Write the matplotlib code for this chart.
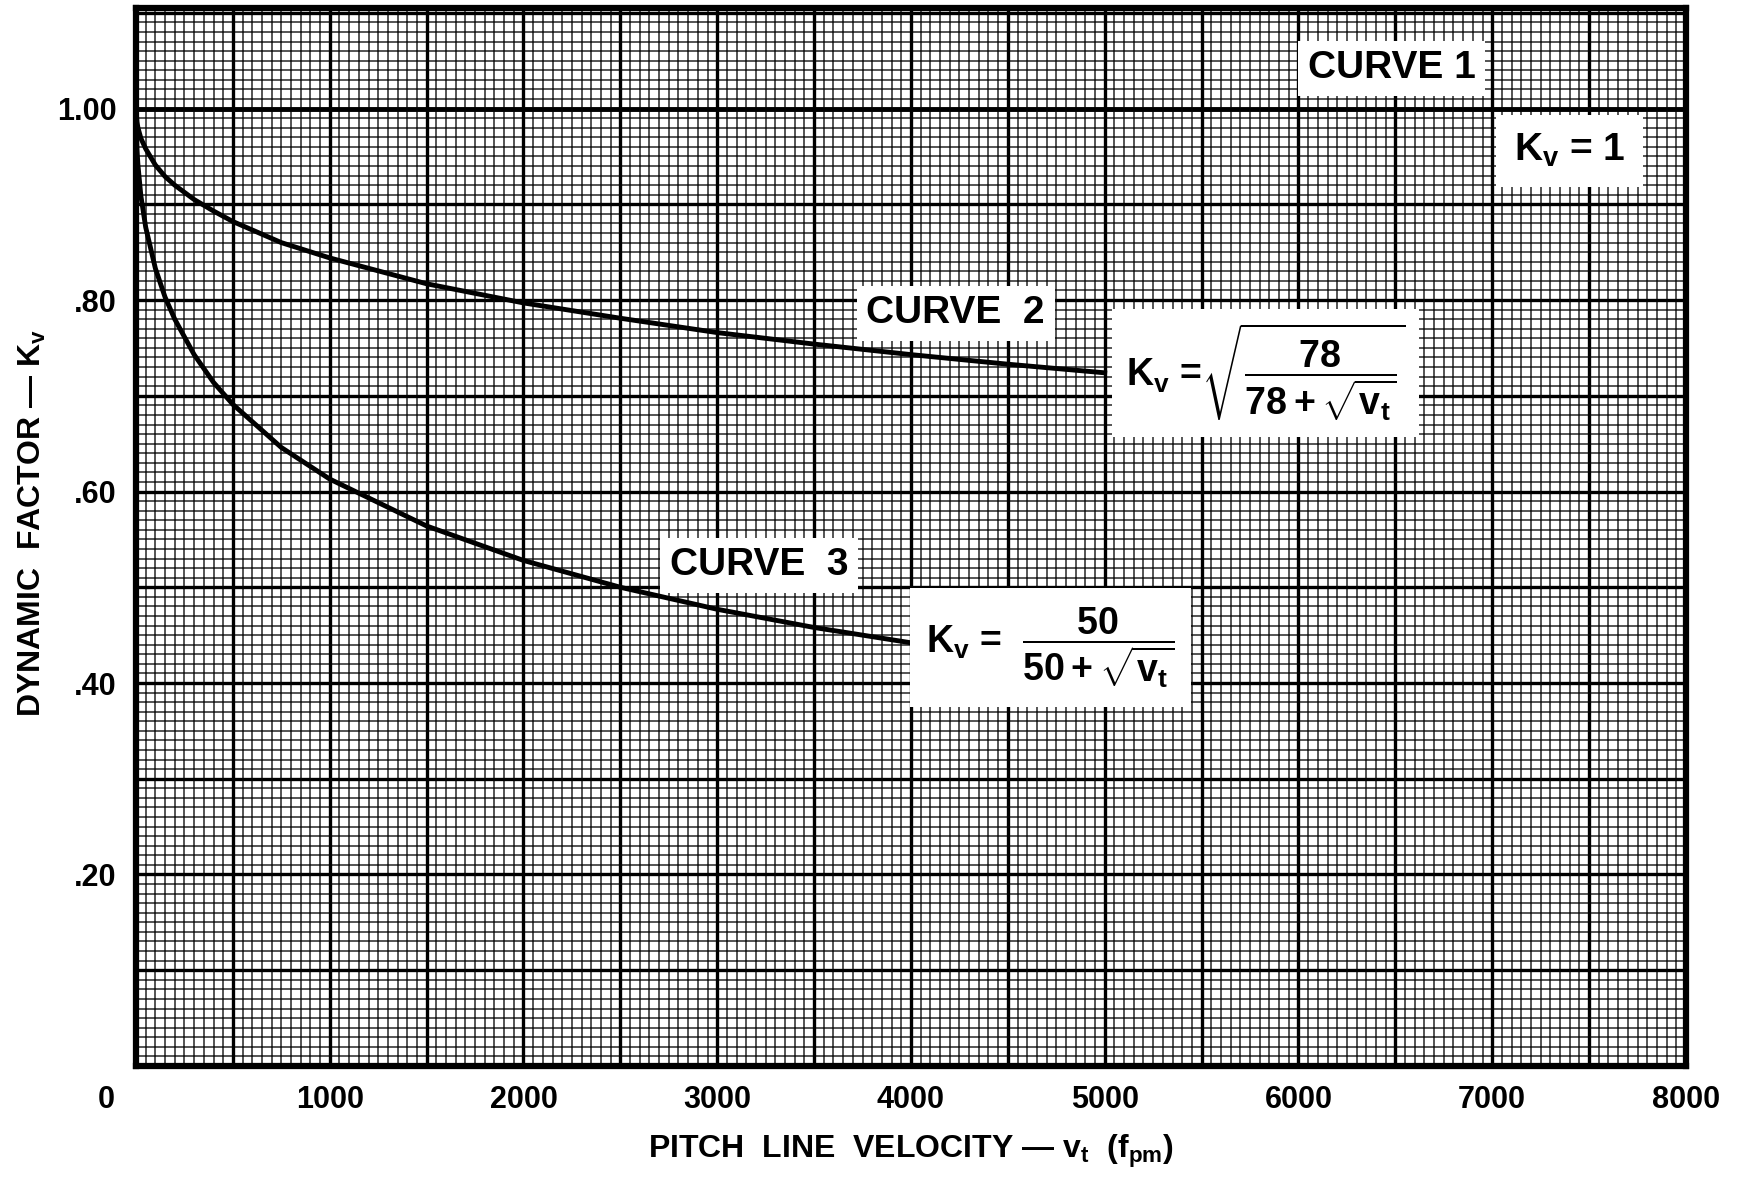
import numpy as np
import matplotlib
matplotlib.use('Agg')
import matplotlib.pyplot as plt
from matplotlib.ticker import MultipleLocator
import matplotlib.transforms as mtransforms

# Fonts: Arial-like sans, bold lettering
FONT = ['Liberation Sans', 'DejaVu Sans']
plt.rcParams['font.family'] = FONT
plt.rcParams['font.weight'] = 'bold'
plt.rcParams['axes.labelweight'] = 'bold'
plt.rcParams['mathtext.fontset'] = 'custom'
plt.rcParams['mathtext.rm'] = 'Liberation Sans:bold'
plt.rcParams['mathtext.it'] = 'Liberation Sans:bold'
plt.rcParams['mathtext.bf'] = 'Liberation Sans:bold'

# Curve data (pitch line velocity in fpm, dynamic factor Kv)
curve1_v = [0, 8000]
curve1_k = [1.0, 1.0]

curve2_v = [0, 5, 10, 25, 50, 100, 150, 200, 300, 400, 500, 750, 1000, 1500, 2000, 2500, 3000, 3500,
            4000, 4500, 5000]
curve2_k = [1.000, 0.986, 0.980, 0.969, 0.958, 0.941, 0.929, 0.920, 0.905, 0.893, 0.882, 0.860,
            0.844, 0.817, 0.797, 0.781, 0.766, 0.754, 0.743, 0.733, 0.724]

curve3_v = [0, 5, 10, 25, 50, 100, 150, 200, 300, 400, 500, 750, 1000, 1500, 2000, 2500, 3000,
            3500, 4000]
curve3_k = [1.000, 0.957, 0.941, 0.909, 0.876, 0.833, 0.803, 0.780, 0.743, 0.714, 0.691, 0.646,
            0.613, 0.564, 0.528, 0.500, 0.477, 0.458, 0.442]

x_ticks = [0, 1000, 2000, 3000, 4000, 5000, 6000, 7000, 8000]
x_tick_labels = ['0', '1000', '2000', '3000', '4000', '5000', '6000', '7000', '8000']
y_ticks = [0.2, 0.4, 0.6, 0.8, 1.0]
y_tick_labels = ['.20', '.40', '.60', '.80', '1.00']

fig = plt.figure(figsize=(17.46, 11.84), dpi=100)
ax = fig.add_axes([0.0779, 0.0997, 0.8877, 0.8935])

ax.set_xlim(0, 8000)
ax.set_ylim(0, 1.105)

# graph-paper grid: fine lines every 50 fpm / 0.01
ax.xaxis.set_minor_locator(MultipleLocator(50))
ax.yaxis.set_minor_locator(MultipleLocator(0.01))
ax.grid(which='minor', color='black', linewidth=1.1, alpha=0.85)
ax.grid(which='major', color='black', linewidth=2.4)
ax.set_axisbelow(True)

ax.set_xticks(x_ticks)
ax.set_xticklabels(x_tick_labels, fontsize=22)
ax.set_yticks(y_ticks)
ax.set_yticklabels(y_tick_labels, fontsize=22)
ax.tick_params(which='both', length=0)
ax.tick_params(axis='x', pad=14)
ax.tick_params(axis='y', pad=14)

# heavy lines between labelled ticks (every 500 fpm / 0.1)
for gx in np.arange(500, 8000, 1000):
    ax.axvline(gx, color='black', linewidth=2.4, zorder=0.9)
for gy in np.arange(0.1, 1.15, 0.2):
    ax.axhline(gy, color='black', linewidth=2.4, zorder=0.9)

# shift the "0" label left like in the original
lbl0 = ax.get_xticklabels()[0]
lbl0.set_transform(lbl0.get_transform() + mtransforms.ScaledTranslation(-0.30, 0, fig.dpi_scale_trans))

for s in ax.spines.values():
    s.set_linewidth(4.5)

ax.plot(curve1_v, curve1_k, color='black', linewidth=3.5, zorder=3)
ax.plot(curve2_v, curve2_k, color='black', linewidth=3.5, zorder=3)
ax.plot(curve3_v, curve3_k, color='black', linewidth=3.5, zorder=3)

box = dict(facecolor='white', edgecolor='none', boxstyle='square,pad=0.25')
ax.text(6480, 1.042, 'CURVE 1', fontsize=28, ha='center', va='center', bbox=box, zorder=4)
ax.text(7400, 0.956, r'K$_\mathrm{v}$ = 1', fontsize=28, ha='center', va='center',
        bbox=dict(facecolor='white', edgecolor='none', boxstyle='square,pad=0.45'), zorder=4)
ax.text(4230, 0.786, 'CURVE  2', fontsize=28, ha='center', va='center', bbox=box, zorder=4)
ax.text(3215, 0.523, 'CURVE  3', fontsize=28, ha='center', va='center', bbox=box, zorder=4)

ax.text(5830, 0.724, r'K$_\mathrm{v}$ =$\sqrt{\dfrac{78}{78+\sqrt{\mathrm{v_t}}}}$', fontsize=27,
        ha='center', va='center',
        bbox=dict(facecolor='white', edgecolor='none', boxstyle='square,pad=0.35'), zorder=4)
ax.text(4720, 0.437, r'K$_\mathrm{v}$ =  $\dfrac{50}{50+\sqrt{\mathrm{v_t}}}$', fontsize=27,
        ha='center', va='center',
        bbox=dict(facecolor='white', edgecolor='none', boxstyle='square,pad=0.45'), zorder=4)

ax.set_ylabel(r'DYNAMIC  FACTOR — K$_\mathrm{v}$', fontsize=23, fontweight='bold')
ax.yaxis.set_label_coords(-0.0665, 0.513)
ax.yaxis.label.set_va('center')
ax.set_xlabel(r'PITCH  LINE  VELOCITY — v$_\mathrm{t}$  (f$_\mathrm{pm}$)', fontsize=23, fontweight='bold')
ax.xaxis.set_label_coords(0.5, -0.081)
ax.xaxis.label.set_va('center')

fig.savefig('out.png', dpi=100, facecolor='white')
